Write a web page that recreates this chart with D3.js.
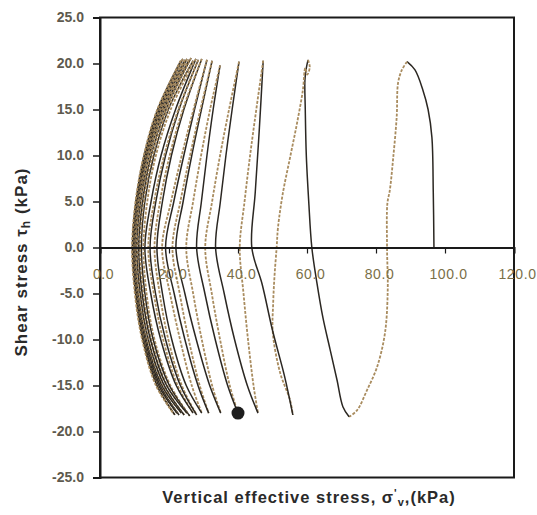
<!DOCTYPE html>
<html>
<head>
<meta charset="utf-8">
<script src="https://cdn.jsdelivr.net/npm/d3@7"></script>
<style>
  body { margin: 0; background: #fff; }
  svg text { font-family: Arial, "Liberation Sans", sans-serif; }
</style>
</head>
<body>
<div id="chart"></div>
<script>
// axis ticks
const sigmaTicks = [0, 20, 40, 60, 80, 100, 120]
const tauTicks = [-25, -20, -15, -10, -5, 0, 5, 10, 15, 20, 25]

// stress path, split in half cycles: [sigma'v (kPa), tau_h (kPa)]
// even index = loading (dark), odd index = unloading (tan)
const halfCycles = [
  [[96.8,0],[96.6,6],[96.2,12],[95.1,15],[93.6,17.1],[91.3,19.3],[89,20.2]],
  [[89,20.2],[87.5,19.3],[86.4,17.9],[86,14.2],[85,9.8],[84,6.2],[83.3,4.8],[83.2,0],[83.4,-4.6],[82.6,-9.3],[80.3,-13],[77.4,-15.5],[74.5,-17.7],[72.2,-18.4]],
  [[72.2,-18.4],[70.4,-17.3],[68.7,-14.4],[66.7,-11.1],[64.6,-7.6],[62.9,-3.9],[61.4,0],[60.5,5],[59.8,10],[59.5,15],[59.4,18.2],[59.8,19.5],[60.3,20.4]],
  [[60.3,20.4],[60.8,19.6],[60.1,18.8],[59.5,19.5],[58.8,17.1],[57.1,13.5],[55.1,9.8],[53,5.9],[51.6,2.2],[51.2,0],[50.6,-3],[50.2,-6],[50.1,-9.3],[52.2,-13.6],[55.1,-16.6],[55.9,-18.2]],
  [[55.9,-18.2],[53.5,-14],[50,-9],[47,-4],[44,0],[45,6],[46.2,13],[47.3,20.3]],
  [[47.3,20.3],[45.3,15],[43.5,10],[41.9,5],[40.5,0],[41.6,-5],[42.9,-10],[44.5,-15],[45.8,-18]],
  [[45.8,-18],[42.7,-15],[39,-10],[36,-5],[33.5,0],[34.9,5],[36.5,10],[38.3,15],[40.3,20.2]],
  [[40.3,20.2],[37.4,15],[34.8,10],[32.5,5],[30.5,0],[32.4,-5],[34.8,-10],[37.6,-15],[40,-18]],
  [[40,-18],[37,-15],[33.4,-10],[30.4,-5],[28,0],[29.4,5],[31,10],[32.8,15],[34.8,19.8]],
  [[34.8,19.8],[31.9,15],[29.3,10],[27,5],[25,0],[27,-5],[29.5,-10],[32.5,-15],[35,-18]],
  [[35,-18],[31.8,-15],[27.9,-10],[24.6,-5],[22,0],[24.1,5],[26.6,10],[29.4,15],[32.5,20.3]],
  [[32.5,20.3],[29.1,15],[26.1,10],[23.3,5],[21,0],[23.1,-5],[25.7,-10],[28.9,-15],[31.5,-18]],
  [[31.5,-18],[28.4,-15],[24.6,-10],[21.5,-5],[19,0],[21.4,5],[24.3,10],[27.4,15],[31,20.4]],
  [[31,20.4],[27.1,15],[23.7,10],[20.6,5],[18,0],[20.3,-5],[23.2,-10],[26.6,-15],[29.5,-18]],
  [[29.5,-18],[25,-15],[20.8,-10],[18.1,-5],[16.5,0],[18.1,5],[20.7,10],[24.3,15],[29.5,20.5]],
  [[29.5,20.5],[24,15],[20.2,10],[17.4,5],[15.8,0],[17.3,-5],[19.8,-10],[23.7,-15],[28,-18.2]],
  [[28,-18.2],[23.3,-15],[19,-10],[16.1,-5],[14.5,0],[16.2,5],[19,10],[22.9,15],[28.5,20.4]],
  [[28.5,20.4],[22.7,15],[18.6,10],[15.7,5],[14,0],[15.6,-5],[18.3,-10],[22.5,-15],[27,-18]],
  [[27,-18],[22.1,-15],[17.6,-10],[14.7,-5],[13,0],[14.8,5],[17.7,10],[21.9,15],[27.8,20.5]],
  [[27.8,20.5],[20.5,15],[16.2,10],[13.7,5],[12.6,0],[13.5,-5],[15.8,-10],[20.4,-15],[26,-18.3]],
  [[26,-18.3],[20.1,-15],[15.4,-10],[13,-5],[12,0],[13,5],[15.6,10],[19.8,15],[27,20.3]],
  [[27,20.3],[19.6,15],[15.3,10],[12.7,5],[11.6,0],[12.6,-5],[14.9,-10],[19.5,-15],[25.2,-18]],
  [[25.2,-18],[19.3,-15],[14.6,-10],[12.2,-5],[11.2,0],[12.3,5],[14.8,10],[19.1,15],[26.4,20.6]],
  [[26.4,20.6],[19,15],[14.6,10],[12,5],[10.9,0],[11.8,-5],[14.1,-10],[18.7,-15],[24.4,-18.2]],
  [[24.4,-18.2],[18.6,-15],[13.9,-10],[11.6,-5],[10.6,0],[11.7,5],[14.2,10],[18.5,15],[25.8,20.4]],
  [[25.8,20.4],[18.4,15],[14.1,10],[11.5,5],[10.4,0],[11.3,-5],[13.6,-10],[18.1,-15],[23.6,-18]],
  [[23.6,-18],[17.9,-15],[13.3,-10],[11,-5],[10.1,0],[11.2,5],[13.7,10],[18,15],[25.2,20.5]],
  [[25.2,20.5],[17.9,15],[13.6,10],[11.1,5],[10,0],[10.9,-5],[13.1,-10],[17.5,-15],[22.9,-18.2]],
  [[22.9,-18.2],[17.4,-15],[13,-10],[10.7,-5],[9.8,0],[10.8,5],[13.4,10],[17.5,15],[24.6,20.4]],
  [[24.6,20.4],[17.4,15],[13.3,10],[10.7,5],[9.7,0],[10.6,-5],[12.7,-10],[17,-15],[22.3,-18]],
  [[22.3,-18],[17,-15],[12.6,-10],[10.5,-5],[9.6,0],[10.6,5],[13.1,10],[17.1,15],[24,20.5]],
  [[24,20.5],[17,15],[13,10],[10.5,5],[9.5,0],[10.4,-5],[12.4,-10],[16.6,-15],[21.7,-18.2]],
  [[21.7,-18.2],[16.5,-15],[12.4,-10],[10.3,-5],[9.4,0],[10.4,5],[12.8,10],[16.7,15],[23.4,20.3]],
  [[23.4,20.3],[16.6,15],[12.7,10],[10.3,5],[9.3,0],[10.1,-5],[12.2,-10],[16.2,-15],[21.2,-18]]
]

// failure marker
const marker = [[40, -18]]

const width = 537, height = 515
const x = d3.scaleLinear().domain([0, 120]).range([100, 514])
const y = d3.scaleLinear().domain([-25, 25]).range([477.5, 17.5])

const svg = d3.select('#chart').append('svg')
  .attr('width', width)
  .attr('height', height)

// stress path
const line = d3.line()
  .x(d => x(d[0]))
  .y(d => y(d[1]))
  .curve(d3.curveCatmullRom.alpha(0.5))

svg.append('g').selectAll('path.half')
  .data(halfCycles)
  .join('path')
    .attr('class', 'half')
    .attr('d', line)
    .attr('fill', 'none')
    .attr('stroke', (_d, i) => i % 2 ? '#a98c5f' : '#2b2722')
    .attr('stroke-width', (_d, i) => i % 2 ? 1.8 : 1.5)
    .attr('stroke-dasharray', (_d, i) => i % 2 ? '3,1.5' : null)

svg.append('g').selectAll('circle')
  .data(marker)
  .join('circle')
    .attr('cx', d => x(d[0]))
    .attr('cy', d => y(d[1]))
    .attr('r', 6.5)
    .attr('fill', '#1e1e1e')

// frame
svg.append('rect')
  .attr('x', x(0))
  .attr('y', y(25))
  .attr('width', x(120) - x(0))
  .attr('height', y(-25) - y(25))
  .attr('fill', 'none')
  .attr('stroke', '#1a1a1a')
  .attr('stroke-width', 2)

// y axis
const yAxis = svg.append('g')
  .attr('transform', `translate(${x(0)},0)`)
  .call(d3.axisLeft(y).tickValues(tauTicks).tickFormat(d => d.toFixed(1)).tickSize(7).tickPadding(9))
yAxis.select('.domain').attr('stroke', '#1a1a1a').attr('stroke-width', 2)
yAxis.selectAll('.tick line').attr('stroke', '#1a1a1a').attr('stroke-width', 1.5)
yAxis.selectAll('.tick text')
  .attr('fill', '#5e5a4e')
  .attr('font-size', 14)
  .attr('font-weight', 'bold')

// x axis through tau = 0
const xAxis = svg.append('g')
  .attr('transform', `translate(0,${y(0)})`)
  .call(d3.axisBottom(x).tickValues(sigmaTicks).tickFormat(d => d.toFixed(1)).tickSize(6).tickPadding(16))
xAxis.select('.domain').attr('stroke', '#1a1a1a').attr('stroke-width', 2)
xAxis.selectAll('.tick line').attr('stroke', '#1a1a1a').attr('stroke-width', 1.2)
xAxis.selectAll('.tick text')
  .attr('fill', '#7a6f48')
  .attr('font-size', 14)
  .attr('letter-spacing', 0.6)
  .attr('dx', 3)

// axis titles
svg.append('text')
  .attr('transform', `translate(27,262) rotate(-90)`)
  .attr('text-anchor', 'middle')
  .attr('font-size', 17)
  .attr('font-weight', 'bold')
  .attr('letter-spacing', 1)
  .attr('fill', '#2a2a2a')
  .text('Shear stress  τ')
  .append('tspan').attr('font-size', 12).attr('dy', 3).text('h')
  .clone().attr('font-size', 17).attr('dy', -3).text(' (kPa)')

svg.append('text')
  .attr('x', 309)
  .attr('y', 503)
  .attr('text-anchor', 'middle')
  .attr('font-size', 16.5)
  .attr('font-weight', 'bold')
  .attr('letter-spacing', 1)
  .attr('fill', '#2a2a2a')
  .text('Vertical effective stress, σ')
  .call(t => {
    t.append('tspan').attr('font-size', 11).attr('dy', -6).text('\'')
    t.append('tspan').attr('font-size', 11).attr('dy', 9).text('v')
    t.append('tspan').attr('dy', -3).text(',(kPa)')
  })
</script>
</body>
</html>
